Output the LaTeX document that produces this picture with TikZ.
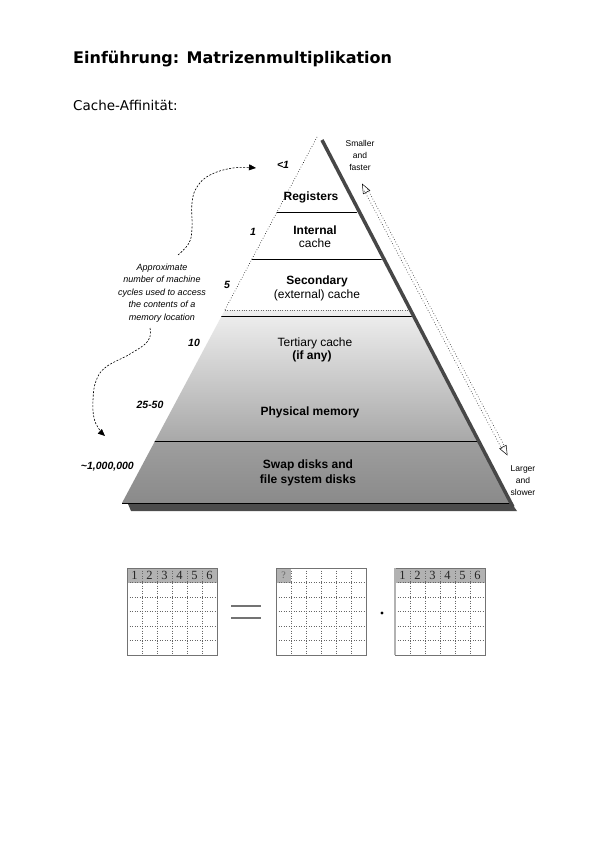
\documentclass[tikz,border=0pt]{standalone}
\usepackage{fontspec}
\setmainfont{Liberation Sans}
\newfontfamily\titlefont{DejaVu Sans}
\newfontfamily\labfont{Liberation Sans}
\newfontfamily\numserif{Liberation Serif}
\usetikzlibrary{arrows.meta,calc}
\tikzset{
  lab/.style={inner sep=0pt, font=\labfont\fontsize{12}{14}\selectfont, align=center},
  labb/.style={lab, font=\labfont\bfseries\fontsize{12}{14}\selectfont},
  cyc/.style={inner sep=0pt, font=\labfont\bfseries\itshape\fontsize{10.5}{12}\selectfont},
  small/.style={inner sep=0pt, align=center, font=\labfont\fontsize{8.5}{12}\selectfont},
  note/.style={inner sep=0pt, align=center, font=\labfont\itshape\fontsize{9}{12.5}\selectfont},
  layerline/.style={line width=0.8pt},
  curve/.style={dash pattern=on 2pt off 1.5pt, line width=0.6pt, -{Triangle[length=7pt,width=6pt]}},
  hollowtip/.style={line width=0.5pt, -{Triangle[open,length=10pt,width=8pt]}},
  dotline/.style={dotted, line width=0.7pt, black!70},
  cellnum/.style={inner sep=0pt, font=\numserif\fontsize{12.5}{12.5}\selectfont, text=black!85},
  gridline/.style={dotted, black!60, line width=0.5pt},
  frame/.style={draw=black!55, line width=0.8pt},
  hdr/.style={fill=black!30},
}
\newcommand{\matgridx}[3]{% x0, y0, name prefix
  \foreach \k in {1,...,5} {
    \draw[gridline] ({#1+15*\k},#2) -- ({#1+15*\k},{#2+87});
    \draw[gridline] (#1,{#2+14.5*\k}) -- ({#1+90},{#2+14.5*\k});
  }
  \draw[frame] (#1,#2) rectangle ({#1+90},{#2+87});
}
\begin{document}
\begin{tikzpicture}[x=1pt,y=-1pt]
\useasboundingbox (0,0) rectangle (596,842);
\fill[white] (0,0) rectangle (596,842);

% title
\node[anchor=base west, inner sep=0pt, font=\titlefont\bfseries\fontsize{16}{18}\selectfont] (title) at (73,64) {Einführung: Matrizenmultiplikation};
\node[anchor=base west, inner sep=0pt, font=\titlefont\fontsize{13.5}{16}\selectfont] (sub) at (73,111) {Cache-Affinität:};

% pyramid
\coordinate (A) at (317,137);
\coordinate (L) at (122,503);
\coordinate (R) at (510,503);
\begin{scope}
  \clip (A) -- (L) -- (R) -- cycle;
  \shade[top color=black!6, bottom color=black!34] (100,310) rectangle (540,441);
  \shade[top color=black!38, bottom color=black!46] (100,441) rectangle (540,504);
  \draw[dotted, black!60] (100,310) -- (540,310);
  \draw[layerline] (100,212) -- (540,212);
  \draw[layerline] (100,259) -- (540,259);
  \draw[layerline] (100,316) -- (540,316);
  \draw[layerline] (100,441) -- (540,441);
\end{scope}
\draw[dotted, line width=0.6pt] (A) -- (224.8,310);
\draw[line width=0.8pt] (L) -- (R);
\fill[black!70] (128,504) -- (512,504) -- (517,511) -- (131,511) -- cycle;
\draw[line width=3.5pt, black!72] (322,140) -- (513,507);

% layer labels
\node[labb] (reg) at (311,197) {Registers};
\node[labb] (int1) at (315,230) {Internal};
\node[lab] (int2) at (315,243) {cache};
\node[labb] (sec1) at (317,281) {Secondary};
\node[lab] (sec2) at (317,295) {(external) cache};
\node[lab] (ter1) at (315,343) {Tertiary cache};
\node[labb] (ter2) at (312,356) {(if any)};
\node[labb] (phys) at (310,412) {Physical memory};
\node[labb] (swap1) at (308,465) {Swap disks and};
\node[labb] (swap2) at (308,480) {file system disks};

% cycle numbers
\node[cyc] (c1) at (283,165) {<1};
\node[cyc] (c2) at (253,232) {1};
\node[cyc] (c3) at (227,285) {5};
\node[cyc] (c4) at (194,343) {10};
\node[cyc] (c5) at (150,405) {25-50};
\node[cyc, anchor=east] (c6) at (134,467) {\textasciitilde1,000,000};

% annotation
\node[note] (note) at (162,293) {Approximate\\number of machine\\cycles used to access\\the contents of a\\memory location};
\coordinate (up1) at (178,255);
\coordinate (up2) at (256,168);
\draw[curve] plot[smooth, tension=0.7] coordinates {(up1) (189,243) (192,228) (192,203) (197,187) (210,175) (233,168) (up2)};
\coordinate (lo1) at (150,328);
\coordinate (lo2) at (105,436);
\draw[curve] plot[smooth, tension=0.7] coordinates {(lo1) (148,341) (130,354) (106,367) (96,381) (93,400) (94,418) (99,429) (lo2)};

% right double dotted arrow
\draw[dotline] (367.6,189.2) -- (505.6,448.2);
\draw[dotline] (364.4,190.9) -- (502.4,449.9);
\coordinate (t1a) at (366.5,192);
\coordinate (t1b) at (362,183.5);
\coordinate (t2a) at (503,447);
\coordinate (t2b) at (507.5,455.5);
\draw[hollowtip] (t1a) -- (t1b);
\draw[hollowtip] (t2a) -- (t2b);
\node[small] (sf) at (360,155) {Smaller\\and\\faster};
\node[small] (ls) at (523,481) {Larger\\and\\slower};

% matrices
\fill[hdr] (127,568) rectangle (217,582.5);
\matgridx{127}{568}{a}
\foreach \k in {1,...,6} {\node[cellnum] (a\k) at ({127+15*\k-7.5},575.5) {\k};}

\fill[hdr] (276,568) rectangle (291,582.5);
\matgridx{276}{568}{b}
\node[cellnum, font=\numserif\fontsize{10}{10}\selectfont, text=black!60] (b1) at (283.5,575.5) {?};

\fill[hdr] (395,568) rectangle (485,582.5);
\matgridx{395}{568}{c}
\draw[black!30, line width=1.6pt] (395,568) -- (395,655);
\foreach \k in {1,...,6} {\node[cellnum] (c\k) at ({395+15*\k-7.5},575.5) {\k};}

% operators
\draw[black!55, line width=2pt] (231,606) -- (261,606);
\draw[black!55, line width=2pt] (231,618) -- (261,618);
\fill (382,613) circle (1.6);
\end{tikzpicture}
\end{document}
